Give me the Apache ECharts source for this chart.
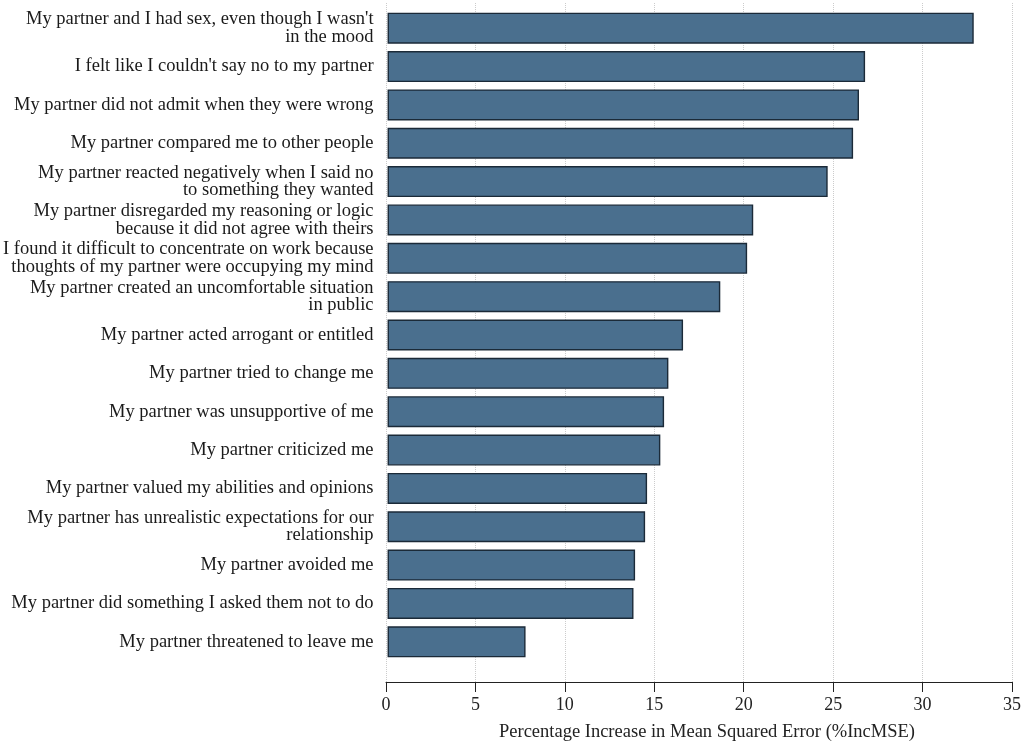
<!DOCTYPE html>
<html>
<head>
<meta charset="utf-8">
<script src="https://cdn.jsdelivr.net/npm/echarts@6/dist/echarts.min.js"></script>
<style>
html,body{margin:0;padding:0;background:#fff;}
#chart{width:1024px;height:747px;}
</style>
</head>
<body>
<div id="chart"></div>
<script>
const categories = [
  "My partner and I had sex, even though I wasn't\nin the mood",
  "I felt like I couldn't say no to my partner",
  "My partner did not admit when they were wrong",
  "My partner compared me to other people",
  "My partner reacted negatively when I said no\nto something they wanted",
  "My partner disregarded my reasoning or logic\nbecause it did not agree with theirs",
  "I found it difficult to concentrate on work because\nthoughts of my partner were occupying my mind",
  "My partner created an uncomfortable situation\nin public",
  "My partner acted arrogant or entitled",
  "My partner tried to change me",
  "My partner was unsupportive of me",
  "My partner criticized me",
  "My partner valued my abilities and opinions",
  "My partner has unrealistic expectations for our\nrelationship",
  "My partner avoided me",
  "My partner did something I asked them not to do",
  "My partner threatened to leave me"
];
const incMSE = [32.75, 26.68, 26.34, 26.01, 24.59, 20.43, 20.09, 18.59, 16.51, 15.69, 15.45, 15.24, 14.50, 14.39, 13.83, 13.74, 7.71];
const xTicks = [0, 5, 10, 15, 20, 25, 30, 35];
const axisTitle = "Percentage Increase in Mean Squared Error (%IncMSE)";

const serif = "'Liberation Serif', 'DejaVu Serif', serif";
const chart = echarts.init(document.getElementById('chart'));
chart.setOption({
  animation: false,
  backgroundColor: '#ffffff',
  grid: [
    {left: 386, right: 10, top: 3, bottom: 63},
    {left: 386, right: 10, top: 9, bottom: 86}
  ],
  xAxis: [
    {
      type: 'value', gridIndex: 0,
      min: xTicks[0], max: xTicks[xTicks.length - 1], interval: 5,
      axisLine: {show: true, lineStyle: {color: '#222', width: 1}},
      axisTick: {show: true, length: 10, lineStyle: {color: '#222', width: 1}},
      axisLabel: {color: '#222', fontFamily: serif, fontSize: 18, margin: 14},
      splitLine: {show: true, lineStyle: {color: '#cccccc', type: 'dotted', width: 1}},
      name: axisTitle, nameLocation: 'middle', nameGap: 41,
      nameTextStyle: {color: '#222', fontFamily: serif, fontSize: 18.5, padding: [0, 0, 0, 16]}
    },
    {
      type: 'value', gridIndex: 1,
      min: xTicks[0], max: xTicks[xTicks.length - 1],
      show: false
    }
  ],
  yAxis: [
    {type: 'value', gridIndex: 0, show: false},
    {
      type: 'category', gridIndex: 1, inverse: true,
      data: categories,
      axisLine: {show: false}, axisTick: {show: false},
      splitLine: {show: false},
      axisLabel: {
        color: '#1a1a1a', fontFamily: serif, fontSize: 18.5, lineHeight: 17.5,
        margin: 14, align: 'right', interval: 0
      }
    }
  ],
  series: [{
    type: 'bar',
    xAxisIndex: 1, yAxisIndex: 1,
    data: incMSE,
    barWidth: 31,
    itemStyle: {color: '#4a6f8e', borderColor: '#1b2a38', borderWidth: 1.4}
  }]
});
</script>
</body>
</html>
